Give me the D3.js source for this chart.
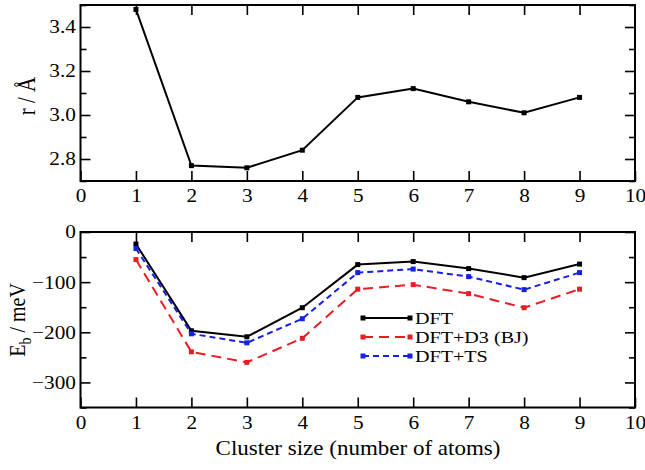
<!DOCTYPE html>
<html>
<head>
<meta charset="utf-8">
<script src="https://cdnjs.cloudflare.com/ajax/libs/d3/7.8.5/d3.min.js"></script>
<style>
  body { margin: 0; background: #fff; }
  .domain { display: none; }
  .tick line { stroke: #000; stroke-width: 1.6; }
</style>
</head>
<body>
<script>
// cluster size (number of atoms)
var sizes = [1, 2, 3, 4, 5, 6, 7, 8, 9];
// interatomic distance r (Angstrom)
var radius = [3.48, 2.77, 2.76, 2.84, 3.08, 3.12, 3.06, 3.01, 3.08];
// binding energies (meV)
var ebDFT = [-24, -197, -209, -151, -65, -59, -73, -91, -64];
var ebD3 = [-55, -239, -260, -212, -114, -105, -123, -151, -114];
var ebTS = [-33, -203, -221, -173, -81, -74, -89, -115, -81];
var seriesNames = ['DFT', 'DFT+D3 (BJ)', 'DFT+TS'];

var xTicks = [0, 1, 2, 3, 4, 5, 6, 7, 8, 9, 10];
var rTicks = [2.8, 3.0, 3.2, 3.4];
var rMinor = [2.7, 2.9, 3.1, 3.3, 3.5];
var ebTicks = [-300, -200, -100, 0];
var ebMinor = [-350, -250, -150, -50];

var serif = '"Liberation Serif", "Times New Roman", "DejaVu Serif", serif';
var stretch = 1.15; // the figure is a bit wider than tall
var W = 645, H = 470;

var svg = d3.select('body').append('svg')
  .attr('width', W)
  .attr('height', H)
  .style('font-family', serif);

var x = d3.scaleLinear().domain([0, 10]).range([80.5, 635]);
var yTop = d3.scaleLinear().domain([2.7, 3.5]).range([181, 5]);
var yBot = d3.scaleLinear().domain([-350, 0]).range([407.5, 232]);

function drawFrame(y, majors, minors, fmt) {
  var x0 = x.range()[0], x1 = x.range()[1];
  var y0 = y.range()[0], y1 = y.range()[1];
  var g = svg.append('g');

  // bottom axis with labels, ticks pointing inward
  g.append('g')
    .attr('transform', 'translate(0,' + y0 + ')')
    .call(d3.axisBottom(x).tickValues(xTicks).tickSizeInner(-10).tickSizeOuter(0).tickPadding(8))
    .call(styleLabels);
  // top axis, ticks only
  g.append('g')
    .attr('transform', 'translate(0,' + y1 + ')')
    .call(d3.axisTop(x).tickValues(xTicks.slice(1, -1)).tickSizeInner(-10).tickSizeOuter(0).tickFormat(''));
  // left axis
  g.append('g')
    .attr('transform', 'translate(' + x0 + ',0)')
    .call(d3.axisLeft(y).tickValues(majors).tickSizeInner(-10).tickSizeOuter(0).tickPadding(4).tickFormat(fmt))
    .call(styleLabels);
  g.append('g')
    .attr('transform', 'translate(' + x0 + ',0)')
    .call(d3.axisLeft(y).tickValues(minors).tickSizeInner(-6).tickSizeOuter(0).tickFormat(''));
  // right axis
  g.append('g')
    .attr('transform', 'translate(' + x1 + ',0)')
    .call(d3.axisRight(y).tickValues(majors).tickSizeInner(-10).tickSizeOuter(0).tickFormat(''));
  g.append('g')
    .attr('transform', 'translate(' + x1 + ',0)')
    .call(d3.axisRight(y).tickValues(minors).tickSizeInner(-6).tickSizeOuter(0).tickFormat(''));

  g.append('rect')
    .attr('x', x0).attr('y', y1)
    .attr('width', x1 - x0).attr('height', y0 - y1)
    .attr('fill', 'none')
    .attr('stroke', '#000')
    .attr('stroke-width', 2);
}

function styleLabels(sel) {
  sel.attr('font-family', null).attr('font-size', null);
  sel.selectAll('text')
    .style('font-family', serif)
    .style('font-size', '18.5px')
    .attr('fill', '#000')
    .attr('transform', 'scale(' + stretch + ',1)');
}

function drawSeries(y, values, color, dash) {
  var pts = sizes.map(function(s, i) { return [s, values[i]]; });
  var line = d3.line()
    .x(function(d) { return x(d[0]); })
    .y(function(d) { return y(d[1]); });
  svg.append('path')
    .datum(pts)
    .attr('d', line)
    .attr('fill', 'none')
    .attr('stroke', color)
    .attr('stroke-width', 2)
    .attr('stroke-dasharray', dash);
  svg.append('g').selectAll('rect')
    .data(pts)
    .enter()
    .append('rect')
    .attr('x', function(d) { return x(d[0]) - 2.5; })
    .attr('y', function(d) { return y(d[1]) - 2.5; })
    .attr('width', 5)
    .attr('height', 5)
    .attr('fill', color);
}

function rotatedTitle(px, py, size) {
  return svg.append('text')
    .attr('transform', 'translate(' + px + ',' + py + ') scale(' + stretch + ',1) rotate(-90)')
    .attr('text-anchor', 'middle')
    .style('font-family', serif)
    .style('font-size', size + 'px');
}

// top panel
drawFrame(yTop, rTicks, rMinor, d3.format('.1f'));
drawSeries(yTop, radius, '#000', null);

rotatedTitle(35, 96, 21).text('r / Å');

// bottom panel
drawFrame(yBot, ebTicks, ebMinor, d3.format('d'));
var colors = ['#000', '#ea1d25', '#1420e6'];
var dashes = [null, '10,6', '6,4'];
drawSeries(yBot, ebDFT, colors[0], dashes[0]);
drawSeries(yBot, ebD3, colors[1], dashes[1]);
drawSeries(yBot, ebTS, colors[2], dashes[2]);

var eb = rotatedTitle(25, 320, 20);
eb.append('tspan').text('E');
eb.append('tspan').style('font-size', '14px').attr('dy', 5).text('b');
eb.append('tspan').attr('dy', -5).text(' / meV');

// legend
var legend = svg.append('g');
var rows = legend.selectAll('g')
  .data(seriesNames)
  .enter()
  .append('g')
  .attr('transform', function(d, i) { return 'translate(363,' + (318 + i * 19) + ')'; });
rows.append('line')
  .attr('x1', 0).attr('x2', 47)
  .attr('stroke', function(d, i) { return colors[i]; })
  .attr('stroke-width', 2)
  .attr('stroke-dasharray', function(d, i) { return dashes[i]; });
rows.selectAll('rect')
  .data(function(d, i) { return [[0, colors[i]], [47, colors[i]]]; })
  .enter()
  .append('rect')
  .attr('x', function(d) { return d[0] - 2.5; })
  .attr('y', -2.5)
  .attr('width', 5).attr('height', 5)
  .attr('fill', function(d) { return d[1]; });
rows.append('text')
  .attr('transform', 'translate(52,6) scale(' + stretch + ',1)')
  .style('font-size', '17.5px')
  .text(function(d) { return d; });

// x title
svg.append('text')
  .attr('transform', 'translate(358,455) scale(' + stretch + ',1)')
  .attr('text-anchor', 'middle')
  .style('font-size', '20px')
  .text('Cluster size (number of atoms)');
</script>
</body>
</html>
